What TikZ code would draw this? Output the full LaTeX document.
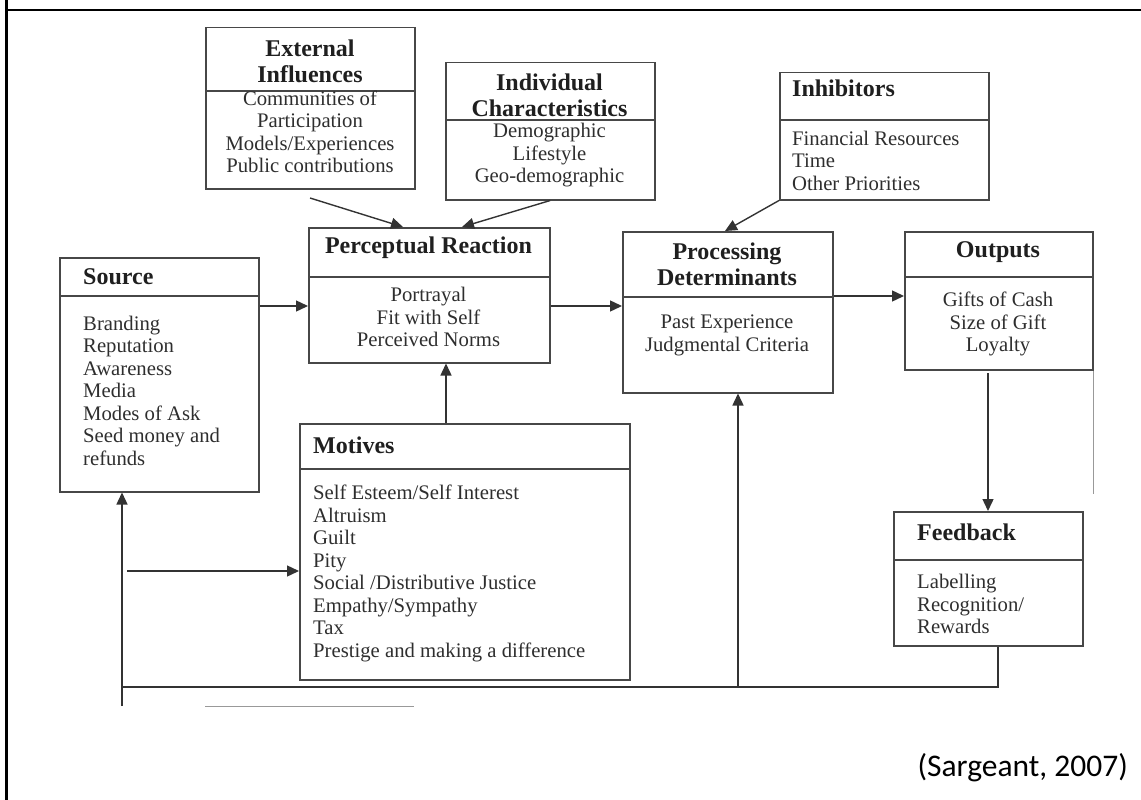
\documentclass[tikz,border=0pt]{standalone}
\usepackage{fontspec}
\setmainfont{Liberation Serif}
\newfontfamily\citefont{Carlito}
\usetikzlibrary{arrows.meta}
\begin{document}
\begin{tikzpicture}[x=1pt,y=-1pt,
  boxfr/.style={draw=black!72, line width=1.5pt, inner sep=0pt, anchor=north west},
  divl/.style={draw=black!72, line width=1.5pt},
  ttl/.style={font=\fontsize{24}{26}\selectfont\bfseries, text=black!88, inner sep=0pt, align=center},
  bdy/.style={font=\fontsize{20.7}{22.5}\selectfont, text=black!82, inner sep=0pt, align=center},
  lft/.style={anchor=west, align=left},
  conn/.style={draw=black!80, line width=1.4pt},
  arr/.style={conn, -{Triangle[length=12pt,width=11pt]}},
  faint/.style={draw=black!40, line width=0.8pt},
]
\useasboundingbox (0,0) rectangle (1141,800);
% outer frame
\draw[line width=3pt] (6.5,0) -- (6.5,800);
\draw[line width=2pt] (5,10.5) -- (1141,10.5);

% External Influences
\node[boxfr, minimum width=209pt, minimum height=161pt] (ext) at (205,27) {};
\draw[divl] (ext.west |- 0,91) -- (ext.east |- 0,91);
\node[ttl] (extT) at (310,61.5) {External\\Influences};
\node[bdy] (extB) at (310,132) {Communities of\\Participation\\Models/Experiences\\Public contributions};

% Individual Characteristics
\node[boxfr, minimum width=209pt, minimum height=137pt] (ind) at (445,62) {};
\draw[divl] (ind.west |- 0,120) -- (ind.east |- 0,120);
\node[ttl] (indT) at (549.5,95) {Individual\\Characteristics};
\node[bdy] (indB) at (549.5,155.5) {Demographic\\Lifestyle\\Geo-demographic};

% Inhibitors
\node[boxfr, minimum width=209pt, minimum height=127pt] (inh) at (779,72) {};
\draw[divl] (inh.west |- 0,120) -- (inh.east |- 0,120);
\node[ttl, lft] (inhT) at (792,88) {Inhibitors};
\node[bdy, lft] (inhB) at (792,160.5) {Financial Resources\\Time\\Other Priorities};

% Source
\node[boxfr, minimum width=199pt, minimum height=234pt] (src) at (59,257) {};
\draw[divl] (src.west |- 0,296) -- (src.east |- 0,296);
\node[ttl, lft] (srcT) at (83,277) {Source};
\node[bdy, lft] (srcB) at (83,390.5) {Branding\\Reputation\\Awareness\\Media\\Modes of Ask\\Seed money and\\refunds};

% Perceptual Reaction
\node[boxfr, minimum width=241pt, minimum height=135pt] (per) at (308,227) {};
\draw[divl] (per.west |- 0,277) -- (per.east |- 0,277);
\node[ttl] (perT) at (428.5,248) {Perceptual Reaction};
\node[bdy] (perB) at (428.5,317) {Portrayal\\Fit with Self\\Perceived Norms};

% Processing Determinants
\node[boxfr, minimum width=210pt, minimum height=161pt] (pro) at (622,231) {};
\draw[divl] (pro.west |- 0,297) -- (pro.east |- 0,297);
\node[ttl] (proT) at (727,264.5) {Processing\\Determinants};
\node[bdy] (proB) at (727,335.5) {Past Experience\\Judgmental Criteria};

% Outputs
\node[boxfr, minimum width=188pt, minimum height=138pt] (out) at (904,231) {};
\draw[divl] (out.west |- 0,277) -- (out.east |- 0,277);
\node[ttl] (outT) at (998,252) {Outputs};
\node[bdy] (outB) at (998,324) {Gifts of Cash\\Size of Gift\\Loyalty};

% Motives
\node[boxfr, minimum width=330pt, minimum height=256pt] (mot) at (299,423) {};
\draw[divl] (mot.west |- 0,469) -- (mot.east |- 0,469);
\node[ttl, lft] (motT) at (313,445) {Motives};
\node[bdy, lft] (motB) at (313,573.5) {Self Esteem/Self Interest\\Altruism\\Guilt\\Pity\\Social /Distributive Justice\\Empathy/Sympathy\\Tax\\Prestige and making a difference};

% Feedback
\node[boxfr, minimum width=189pt, minimum height=134pt] (fb) at (893,511) {};
\draw[divl] (fb.west |- 0,560) -- (fb.east |- 0,560);
\node[ttl, lft] (fbT) at (917,532) {Feedback};
\node[bdy, lft] (fbB) at (917,604) {Labelling\\Recognition/\\Rewards};

% connectors
\coordinate (e1) at (310,198);
\draw[arr] (e1) -- ([xshift=95pt]per.north west);
\draw[arr] (ind.south) -- ([xshift=154pt]per.north west);
\draw[arr] (inh.south west) -- ([xshift=103pt]pro.north west);
\draw[arr] ([yshift=-49pt]src.north east) -- ([yshift=-79pt]per.north west);
\draw[arr] ([yshift=-79pt]per.north east) -- ([yshift=-75pt]pro.north west);
\draw[arr] ([yshift=-65pt]pro.north east) -- ([yshift=-65pt]out.north west);
\draw[arr] ([xshift=147pt]mot.north west) -- ([xshift=138pt]per.south west);
\coordinate (o1) at (988,373);
\draw[arr] (o1) -- (o1 |- fb.north);
\coordinate (bl) at (122,687);
\coordinate (bs) at (122,706);
\draw[conn] ([xshift=105pt]fb.south west) |- (bl);
\draw[arr] (bs) -- (bs |- src.south);
\coordinate (pb) at (738,687);
\draw[arr] (pb) -- (pb |- pro.south);
\coordinate (m0) at (127,571);
\draw[arr] (m0) -- (m0 -| mot.west);

% faint scan lines
\draw[faint] (out.south east) -- ++(0,123);
\coordinate (g1) at (205,706);
\coordinate (g2) at (414,706);
\draw[faint] (g1) -- (g2);

% citation
\node[font=\citefont\fontsize{31.5}{33}\selectfont, anchor=base east, inner sep=0pt] (cite) at (1128,776) {(Sargeant, 2007)};
\end{tikzpicture}
\end{document}
